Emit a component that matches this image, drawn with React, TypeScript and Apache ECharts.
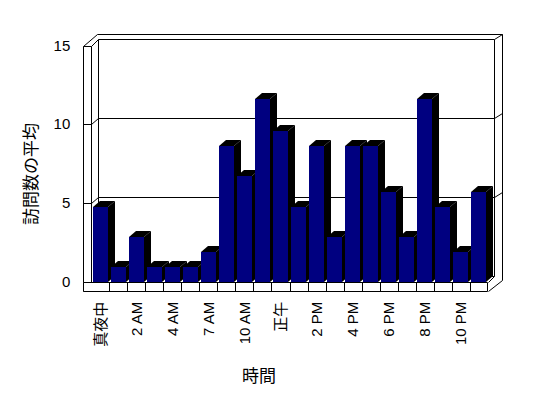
import React, { useEffect, useRef } from "react";
import * as echarts from "echarts";

const categories = [
  "真夜中", "1 AM", "2 AM", "3 AM", "4 AM", "5 AM", "7 AM", "8 AM", "10 AM", "11 AM", "正午",
  "1 PM", "2 PM", "3 PM", "4 PM", "5 PM", "6 PM", "7 PM", "8 PM", "9 PM", "10 PM", "11 PM",
];
const visits = [
  4.75, 0.95, 2.85, 0.95, 0.95, 0.95, 1.9, 8.6, 6.7, 11.55, 9.55,
  4.75, 8.6, 2.85, 8.6, 8.6, 5.7, 2.85, 11.55, 4.75, 1.9, 5.7,
];
const yTicks = [0, 5, 10, 15];
const xTitle = "時間";
const yTitle = "訪問数の平均";

const LATIN = "'Liberation Sans', Arial, 'Noto Sans CJK JP', sans-serif";
const CJK = "'Noto Sans CJK JP', sans-serif";
const NAVY = "#000080";
const IN = { dx: 6.5, dy: -6 };
const OUT = { dx: 14, dy: -11 };
const BAR = { dx: 7, dy: -6 };

const p = (v: number) => Math.round(v) + 0.5;

function ln(x1: number, y1: number, x2: number, y2: number) {
  return {
    type: "line",
    shape: { x1: p(x1), y1: p(y1), x2: p(x2), y2: p(y2) },
    style: { stroke: "#000", lineWidth: 1 },
  };
}

function renderFrame(_params: any, api: any) {
  const n = categories.length;
  const bw = api.size([1, 0])[0];
  const xl = api.coord([0, 0])[0] - bw / 2;
  const xr = api.coord([n - 1, 0])[0] + bw / 2;
  const yF = api.coord([0, yTicks[0]])[1];
  const yT = api.coord([0, yTicks[yTicks.length - 1]])[1];
  const xL = xl - 8;
  const yB = yF + 9.3;
  const ch: any[] = [];
  // back wall inner face
  ch.push({
    type: "rect",
    shape: {
      x: p(xl + IN.dx),
      y: p(yT + IN.dy),
      width: Math.round(xr - xl),
      height: Math.round(yF - yT),
    },
    style: { fill: "#fff", stroke: "#000", lineWidth: 1 },
  });
  // outer top & right
  ch.push(ln(xL, yT + 1, xL + OUT.dx, yT + OUT.dy));
  ch.push(ln(xL + OUT.dx, yT + OUT.dy, xr + OUT.dx, yT + OUT.dy));
  ch.push(ln(xr + OUT.dx, yT + OUT.dy, xr + OUT.dx, yB + OUT.dy));
  ch.push(ln(xr + IN.dx, yT + IN.dy, xr + OUT.dx, yT + OUT.dy));
  // left wall
  ch.push(ln(xL, yT + 1, xL, yB));
  ch.push(ln(xl, yT + 1, xl, yF));
  ch.push(ln(xL, yT + 1, xl, yT + 1));
  ch.push(ln(xl, yT + 1, xl + IN.dx, yT + IN.dy));
  // gridlines
  yTicks.slice(1, -1).forEach((v) => {
    const y = api.coord([0, v])[1];
    ch.push(ln(xL, y, xl, y));
    ch.push(ln(xl, y, xl + IN.dx, y + IN.dy));
    ch.push(ln(xl + IN.dx, y + IN.dy, xr + IN.dx, y + IN.dy));
    ch.push(ln(xr + IN.dx, y + IN.dy, xr + OUT.dx, y + OUT.dy));
  });
  // floor
  ch.push({
    type: "rect",
    shape: { x: p(xL), y: p(yF), width: Math.round(xr - xL), height: Math.round(yB - yF) },
    style: { fill: "#fff", stroke: "#000", lineWidth: 1 },
  });
  for (let i = 1; i < n; i++) {
    const x = xl + i * bw;
    ch.push(ln(x, yF, x, yB));
  }
  ch.push(ln(xr, yF, xr + IN.dx, yF + IN.dy));
  ch.push(ln(xr, yB, xr + OUT.dx, yB + OUT.dy));
  return { type: "group", children: ch };
}

function renderBar(_params: any, api: any) {
  const i = api.value(0);
  const v = api.value(1);
  const top = api.coord([i, v]);
  const base = api.coord([i, 0]);
  const bw = api.size([1, 0])[0];
  const w = Math.round(bw * 0.83);
  const x0 = Math.round(top[0] - w / 2);
  const x1 = x0 + w;
  const yt = Math.round(top[1]);
  const yb = Math.round(base[1]);
  return {
    type: "group",
    children: [
      {
        type: "polygon",
        shape: { points: [[x1, yt], [x1 + BAR.dx, yt + BAR.dy], [x1 + BAR.dx, yb + BAR.dy], [x1, yb]] },
        style: { fill: "#000" },
      },
      {
        type: "polygon",
        shape: { points: [[x0, yt], [x1, yt], [x1 + BAR.dx, yt + BAR.dy], [x0 + BAR.dx, yt + BAR.dy]] },
        style: { fill: "#000" },
      },
      {
        type: "rect",
        shape: { x: x0, y: yt, width: w, height: yb - yt },
        style: { fill: NAVY },
      },
    ],
  };
}

export default function App() {
  const ref = useRef<HTMLDivElement>(null);
  useEffect(() => {
    if (!ref.current) return;
    const chart = echarts.init(ref.current, undefined, { renderer: "svg" });
    chart.setOption({
      animation: false,
      backgroundColor: "#fff",
      grid: { left: 91.3, right: 60.3, top: 45, bottom: 116.3 },
      xAxis: {
        type: "category",
        data: categories,
        axisLine: { show: false },
        axisTick: { show: false },
        axisLabel: {
          interval: 1,
          rotate: 90,
          margin: 20,
          fontSize: 15,
          fontFamily: LATIN,
          color: "#000",
        },
      },
      yAxis: {
        type: "value",
        min: yTicks[0],
        max: yTicks[yTicks.length - 1],
        interval: 5,
        axisLine: { show: false },
        axisTick: { show: false },
        splitLine: { show: false },
        axisLabel: { margin: 21, fontSize: 15, fontFamily: LATIN, color: "#000" },
      },
      graphic: [
        {
          type: "text",
          x: 259,
          y: 374,
          style: { text: xTitle, align: "center", verticalAlign: "middle", fontSize: 17, fontFamily: CJK, fill: "#000" },
        },
        {
          type: "text",
          x: 29,
          y: 174,
          rotation: Math.PI / 2,
          style: { text: yTitle, align: "center", verticalAlign: "middle", fontSize: 17, fontFamily: CJK, fill: "#000" },
        },
      ],
      series: [
        {
          type: "custom",
          z: 1,
          silent: true,
          data: [[0, 0]],
          encode: { x: 0, y: 1 },
          renderItem: renderFrame,
        },
        {
          type: "custom",
          z: 2,
          data: visits.map((v, i) => [i, v]),
          encode: { x: 0, y: 1 },
          renderItem: renderBar,
        },
      ],
    });
    return () => chart.dispose();
  }, []);
  return (
    <div
      ref={ref}
      style={{ position: "fixed", left: 0, top: 0, width: 548, height: 398, background: "#fff" }}
    />
  );
}
